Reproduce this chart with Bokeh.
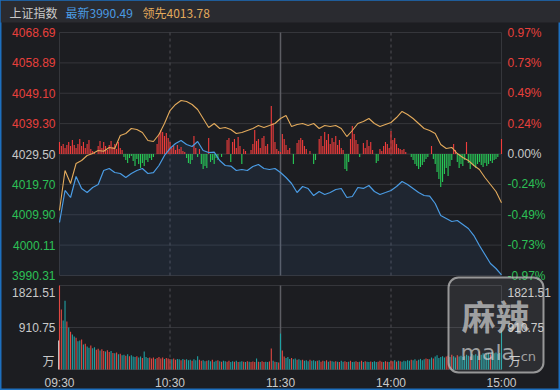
from bokeh.plotting import figure
from bokeh.models import Range1d, BoxAnnotation
from bokeh.core.properties import value
from bokeh.embed import file_html
from bokeh.resources import INLINE

# ---------------- data ----------------
index_name = "上证指数"
price_ticks = [4068.69, 4058.89, 4049.10, 4039.30, 4029.50, 4019.70, 4009.90, 4000.11, 3990.31]
pct_labels = ["0.97%", "0.73%", "0.49%", "0.24%", "0.00%", "-0.24%", "-0.49%", "-0.73%", "-0.97%"]
prev_close = 4029.50
vol_ticks = [1821.51, 910.75]
vol_unit = "万"
time_minutes = [0, 60, 120, 180, 240]
time_labels = ["09:30", "10:30", "11:30", "14:00", "15:00"]

line_minutes = list(range(0, 241, 3))
latest = [4007.41, 4017.73, 4015.47, 4022.24, 4018.37, 4017.08, 4018.69, 4019.66, 4024.18, 4024.82,
          4023.53, 4023.21, 4021.92, 4023.21, 4024.18, 4024.82, 4023.21, 4023.50, 4025.79, 4029.02,
          4031.27, 4032.89, 4033.85, 4032.56, 4031.92, 4033.53, 4030.63, 4029.98, 4030.10, 4027.40,
          4025.79, 4025.60, 4024.18, 4024.50, 4024.18, 4025.47, 4026.11, 4024.82, 4024.50, 4024.82,
          4023.53, 4021.92, 4019.98, 4017.08, 4019.02, 4018.37, 4016.11, 4017.40, 4016.44, 4017.08,
          4018.05, 4018.37, 4015.47, 4015.79, 4018.69, 4018.40, 4019.34, 4017.40, 4016.44, 4017.08,
          4017.73, 4019.02, 4020.63, 4019.66, 4018.37, 4017.08, 4016.11, 4015.90, 4013.53, 4009.66,
          4008.70, 4007.73, 4008.05, 4006.76, 4005.47, 4003.21, 3999.99, 3997.08, 3994.18, 3992.57,
          3990.49]
leading = [4011.28, 4024.18, 4019.98, 4026.44, 4027.40, 4029.02, 4029.66, 4030.63, 4030.40, 4031.60,
           4031.30, 4035.47, 4036.11, 4037.73, 4037.40, 4036.43, 4033.85, 4033.53, 4035.79, 4039.34,
           4043.53, 4045.47, 4046.76, 4046.43, 4045.47, 4043.85, 4040.95, 4038.05, 4039.34, 4037.73,
           4038.05, 4037.40, 4036.11, 4036.43, 4037.08, 4037.73, 4038.69, 4038.05, 4038.69, 4039.34,
           4040.95, 4041.92, 4038.37, 4039.02, 4039.34, 4038.69, 4039.34, 4037.73, 4038.69, 4038.37,
           4038.69, 4037.73, 4035.14, 4037.08, 4039.34, 4039.98, 4040.95, 4039.34, 4038.37, 4039.02,
           4039.66, 4041.27, 4043.21, 4042.24, 4040.95, 4039.34, 4037.73, 4037.08, 4036.11, 4032.56,
           4031.27, 4031.60, 4029.66, 4028.37, 4027.40, 4025.79, 4024.50, 4021.92, 4019.66, 4017.40,
           4013.78]

# buy/sell strength bars, one per minute (0..240)
flow = [12, 8, 10, 6, 9, 12, 8, 14, 9, 6,
        10, 15, 8, 12, 6, 10, 14, 5, 3, 2,
        0, 8, 13, 6, 12, 8, 4, 9, 13, 7,
        10, 5, 12, 6, 4, -3, -6, -9, -4, -2,
        -7, -12, -5, -10, -14, -9, -12, -6, -8, -4,
        -6, -3, 0, 10, 20, 24, 22, 18, 21, 16,
        12, 6, 8, 4, 9, 5, 7, 3, 2, -4,
        -9, -10, -6, 18, 6, -3, 5, -10, -15, -12,
        -14, 16, -8, -6, -10, -4, -6, 0, -3, 0,
        0, 14, 16, -8, 12, 15, 6, 17, 8, -10,
        5, 3, 0, 0, 4, 10, 24, 13, 15, 6,
        16, 18, 8, 10, 0, 48, 31, 12, 5, 3,
        2, 20, 15, 9, 4, 6, 0, -10, 0, 11,
        14, 16, 14, 8, 5, 0, 3, 0, -10, -6,
        0, 15, 18, 8, 22, 14, 20, 10, 16, 12,
        18, 9, 14, 6, 4, -15, -17, -8, 15, 28,
        20, 14, 10, -3, 0, 11, 6, 14, 8, 12,
        4, 0, -9, -7, 5, 3, 8, 12, 10, 6,
        23, 14, 16, 10, 6, 5, 4, 5, 2, 0,
        0, -3, -6, -10, -12, -15, -13, -11, -8, -5,
        -3, 0, 8, -5, -10, -18, -25, -33, -28, -20,
        -14, -22, -12, -6, 10, 4, -8, -14, -10, -12,
        -6, 12, -9, -15, -10, -12, -14, -10, -8, -11,
        -13, -9, -12, -10, -7, -9, -6, -5, -3, 0,
        15]

# volume (万), one per minute (0..240)
volume = [1821, 1300, 1060, 1490, 1040, 910, 820, 760, 715, 690,
          610, 630, 650, 540, 560, 500, 470, 520, 460, 480,
          430, 450, 410, 440, 400, 390, 420, 380, 400, 360,
          350, 370, 330, 340, 310, 320, 300, 330, 290, 310,
          280, 270, 290, 260, 280, 250, 390, 270, 250, 260,
          240, 260, 230, 250, 270, 240, 260, 230, 250, 240,
          230, 220, 240, 210, 230, 220, 200, 230, 210, 220,
          200, 210, 190, 220, 200, 290, 210, 190, 200, 180,
          190, 200, 180, 210, 170, 190, 200, 180, 170, 190,
          180, 170, 190, 160, 180, 170, 190, 160, 170, 180,
          170, 160, 180, 170, 160, 175, 165, 240, 170, 160,
          180, 165, 170, 160, 175, 455, 190, 170, 160, 150,
          780, 410, 280, 250, 270, 230, 250, 220, 240, 210,
          220, 200, 210, 190, 200, 180, 210, 190, 200, 180,
          190, 200, 170, 190, 180, 200, 170, 190, 180, 170,
          180, 170, 160, 190, 170, 180, 160, 170, 190, 160,
          170, 180, 160, 170, 190, 160, 180, 170, 160, 175,
          165, 180, 160, 170, 190, 170, 165, 180, 170, 160,
          190, 180, 200, 170, 190, 180, 170, 190, 180, 200,
          190, 210, 200, 220, 190, 210, 230, 200, 220, 240,
          230, 220, 260, 240, 280, 310, 250, 270, 290, 260,
          280, 300, 270, 320, 290, 260, 310, 280, 300, 270,
          290, 320, 300, 280, 340, 310, 330, 300, 390, 320,
          350, 310, 340, 360, 330, 380, 350, 370, 340, 360,
          850]
vol_dir = ("rrggrgrggr" "ggrgrggrgg" "rrgrrgrrgr" "grgrggrgrg" "ggrggrgggr"
           "rrgrrrrgrr" "rgrrggrgrg" "ggrgggrrgg" "rggrggrgrg" "grrggrgrgg"
           "rgrgrrrgrg" "rrggrrgrgr" "grrgggrggr" "ggrgggrggg" "rgrrgrgrgg"
           "rgrggrrgrg" "grrgrgrggr" "gggrrrgrrg" "rrgrgrgggg" "grggrggggr"
           "rggrgggggg" "rrgrggrggg" "gggrggggrg" "ggggrggggg" "g")
auction_volume = 630

# ---------------- layout / style ----------------
W, H = 560, 390
PL, PR = 59, 501          # plot left / right pixel columns
MT, MB = 32, 275          # rows of top / bottom price ticks
VT, VB = 285, 369         # rows of top volume tick / zero volume
BG = "#1c1d21"
HEADER_BG = "#2a2b30"
GRID = "#35363b"
VLINE = "#4e4f55"
RED = "#e8403c"
GREEN = "#2cc056"
NEUTRAL = "#c9c9c9"
BLUE = "#4a9be3"
ORANGE = "#e2aa5c"
FLOW_RED = "#f03c3c"
FLOW_GREEN = "#28cc58"
VOL_RED = "#e04842"
VOL_TEAL = "#1fa0a2"
FONT = value("Liberation Sans")
CJK = value("Noto Sans CJK SC")

ppm = (PR - PL) / 240.0
s = (price_ticks[0] - price_ticks[-1]) / (MB - MT)
k = vol_ticks[0] / (VB - VT)
zero_row = MT + (price_ticks[0] - prev_close) / s


def X(px):
    return (px - PL) / ppm


def Y(py):
    return price_ticks[0] - (py - MT) * s


p = figure(width=W, height=H, output_backend="svg", toolbar_location=None,
           x_range=Range1d(X(0), X(W)), y_range=Range1d(Y(H), Y(0)),
           x_axis_location=None, y_axis_location=None, min_border=0,
           background_fill_color=BG, border_fill_color=BG,
           outline_line_color="#1d6fbe", outline_line_width=2)
p.title.visible = False
p.extra_y_ranges = {
    "vol": Range1d(-(H - VB) * k, VB * k),
    "flow": Range1d(zero_row - H, zero_row),
}
p.xgrid.visible = False
p.ygrid.visible = False

# header band
p.add_layout(BoxAnnotation(left=X(0), right=X(W), top=Y(0), bottom=Y(22),
                           fill_color=HEADER_BG, fill_alpha=1, line_alpha=0, level="underlay"))

# grid lines
p.segment(x0=0, x1=240, y0=price_ticks, y1=price_ticks, line_color=GRID, line_width=1)
vgrid = vol_ticks + [0]
p.segment(x0=0, x1=240, y0=vgrid, y1=vgrid, line_color=GRID, line_width=1, y_range_name="vol")
for m in time_minutes:
    if m in (0, 240):
        style = dict(line_color=GRID, line_dash="solid", line_width=1)
    elif m == 120:
        style = dict(line_color="#5c5d63", line_dash="solid", line_width=1.5)
    else:
        style = dict(line_color=VLINE, line_dash="3 3", line_width=1)
    p.segment(x0=[m], x1=[m], y0=[price_ticks[-1]], y1=[price_ticks[0]], **style)
    p.segment(x0=[m], x1=[m], y0=[0], y1=[vol_ticks[0]], y_range_name="vol", **style)

# area under latest price
p.varea(x=line_minutes, y1=latest, y2=price_ticks[-1], fill_color="#3a78c0", fill_alpha=0.10)

# strength bars
fm = [i for i, f in enumerate(flow) if f != 0]
p.vbar(x=fm, width=0.6,
       top=[max(flow[i], 0) for i in fm], bottom=[min(flow[i], 0) for i in fm],
       fill_color=[FLOW_RED if flow[i] > 0 else FLOW_GREEN for i in fm],
       line_color=None, y_range_name="flow")

# price lines
p.line(line_minutes, leading, line_color=ORANGE, line_width=1.1)
p.line(line_minutes, latest, line_color=BLUE, line_width=1.2)

# volume bars
vm = list(range(len(volume)))
p.vbar(x=vm, width=0.6, top=volume, bottom=0,
       fill_color=[VOL_RED if d == "r" else VOL_TEAL for d in vol_dir],
       line_color=None, y_range_name="vol")
p.vbar(x=[-0.45], width=0.5, top=[auction_volume], bottom=0,
       fill_color="#e8e8e8", line_color=None, y_range_name="vol")

# price axis labels (left and right)
mid = price_ticks.index(prev_close)
tick_colors = [RED if i < mid else (NEUTRAL if i == mid else GREEN) for i in range(len(price_ticks))]
lab = [f"{v:.2f}" for v in price_ticks]
p.text(x=[X(55)] * len(lab), y=price_ticks, text=lab, text_color=tick_colors,
       text_font=FONT, text_font_size=value("12px"), text_align="right", text_baseline="middle")
p.text(x=[X(507)] * len(pct_labels), y=price_ticks, text=pct_labels, text_color=tick_colors,
       text_font=FONT, text_font_size=value("12px"), text_align="left", text_baseline="middle")

# volume axis labels
vlab = [f"{v:.2f}" for v in vol_ticks]
for xx, al in ((X(55), "right"), (X(507), "left")):
    p.text(x=[xx], y=[vol_ticks[0]], text=[vlab[0]], text_color=NEUTRAL, text_font=FONT,
           text_font_size=value("12px"), text_align=al, text_baseline="top", y_offset=2,
           y_range_name="vol")
    p.text(x=[xx], y=[vol_ticks[1]], text=[vlab[1]], text_color=NEUTRAL, text_font=FONT,
           text_font_size=value("12px"), text_align=al, text_baseline="middle",
           y_range_name="vol")
p.text(x=[X(54)], y=[0], text=[vol_unit], text_color=NEUTRAL, text_font=CJK,
       text_font_size=value("12px"), text_align="right", text_baseline="bottom",
       y_offset=-1, y_range_name="vol")
p.text(x=[X(508)], y=[0], text=[vol_unit], text_color=NEUTRAL, text_font=CJK,
       text_font_size=value("12px"), text_align="left", text_baseline="bottom",
       y_offset=-1, y_range_name="vol")

# time labels
p.text(x=time_minutes, y=[Y(382)] * len(time_minutes), text=time_labels, text_color=NEUTRAL,
       text_font=FONT, text_font_size=value("12px"), text_align="center", text_baseline="middle")

# header texts
p.text(x=[X(9), X(65), X(142)], y=[Y(12)] * 3,
       text=[index_name, f"最新{latest[-1]:.2f}", f"领先{leading[-1]:.2f}"],
       text_color=[NEUTRAL, BLUE, ORANGE], text_font=CJK, text_font_size=value("12px"),
       text_align="left", text_baseline="middle")

# watermark
p.add_layout(BoxAnnotation(left=X(448), right=X(543), top=Y(277), bottom=Y(372),
                           border_radius=10, fill_color="#ffffff", fill_alpha=0.08,
                           line_color="#bdbdbd", line_alpha=0.75, line_width=2, level="overlay"))
p.text(x=[X(495)], y=[Y(315)], text=["麻辣"], text_color="#d0d0d0", text_alpha=0.7,
       text_font=CJK, text_font_style="bold", text_font_size=value("34px"),
       text_align="center", text_baseline="middle", level="overlay")
p.text(x=[X(460)], y=[Y(352)], text=["mala"], text_color="#d0d0d0", text_alpha=0.7,
       text_font=value("DejaVu Sans"), text_font_size=value("22px"),
       text_align="left", text_baseline="middle", level="overlay")
p.text(x=[X(516)], y=[Y(356)], text=[".cn"], text_color="#d0d0d0", text_alpha=0.7,
       text_font=value("DejaVu Sans"), text_font_size=value("13px"),
       text_align="left", text_baseline="middle", level="overlay")

open("out.html", "w").write(file_html(p, INLINE))
